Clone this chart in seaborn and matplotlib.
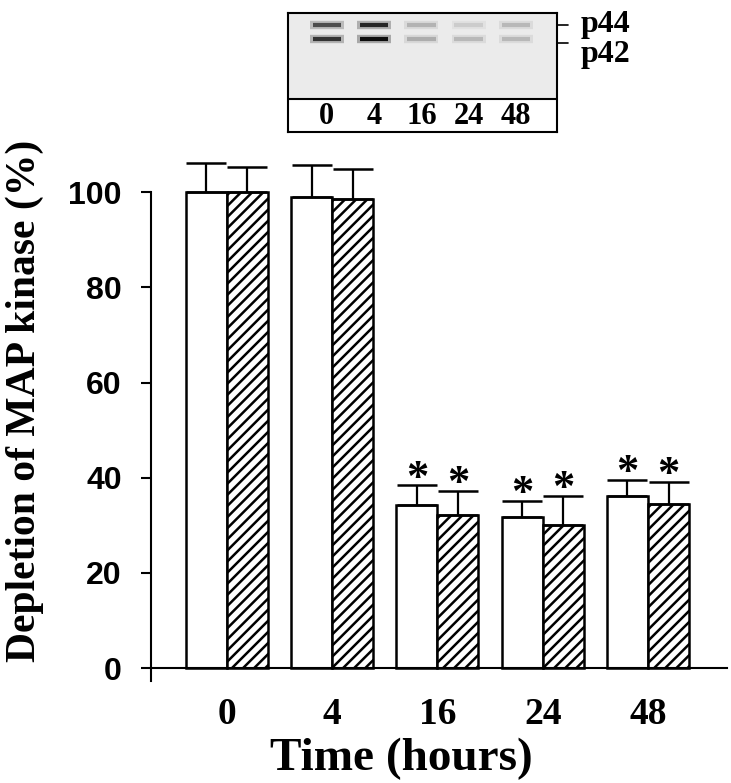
import pandas as pd
import matplotlib
matplotlib.use("Agg")
import matplotlib.pyplot as plt
import seaborn as sns

# data
times = ['0', '4', '16', '24', '48']
p44_mean = [100.0, 99.0, 34.2, 31.7, 36.1]
p44_sem = [6.1, 6.7, 4.2, 3.4, 3.4]
p42_mean = [100.0, 98.5, 32.1, 30.0, 34.5]
p42_sem = [5.3, 6.3, 5.1, 6.1, 4.6]
signif = [False, False, True, True, True]

# blot band darkness (0 = none, 1 = black) per lane
p44_band = [0.70, 0.85, 0.30, 0.20, 0.28]
p42_band = [0.80, 0.95, 0.32, 0.28, 0.28]

df = pd.DataFrame({
    'time': times * 2,
    'band': ['p44'] * len(times) + ['p42'] * len(times),
    'value': p44_mean + p42_mean,
})

sns.set_style("white")
plt.rcParams['hatch.linewidth'] = 1.8
for k in ['text.color', 'axes.labelcolor', 'xtick.color', 'ytick.color']:
    plt.rcParams[k] = 'black'
serif = ['Liberation Serif', 'DejaVu Serif']
sans = ['Liberation Sans', 'DejaVu Sans']

fig = plt.figure(figsize=(7.31, 7.83), dpi=100)
ax = fig.add_axes([151 / 731, 102 / 783, 576 / 731, 527 / 783])

sns.barplot(data=df, x='time', y='value', hue='band', order=times,
            hue_order=['p44', 'p42'], palette=['white', 'white'],
            saturation=1, edgecolor='black', linewidth=1.8, width=0.78,
            errorbar=None, legend=False, ax=ax)

for bar in ax.containers[1]:
    bar.set_hatch('///')

for cont, sem in zip(ax.containers, [p44_sem, p42_sem]):
    for bar, err, star in zip(cont, sem, signif):
        x = bar.get_x() + bar.get_width() / 2
        h = bar.get_height()
        ax.errorbar(x, h, yerr=[[0], [err]], fmt='none', ecolor='black',
                    elinewidth=1.6, capsize=14.4, capthick=1.8, zorder=1)
        if star:
            ax.annotate('*', (x, h + err), xytext=(0, -3), textcoords='offset points',
                        ha='center', va='baseline', fontsize=32,
                        fontweight='bold', family=serif)

ax.set_xlim(-0.72, 4.75)
ax.set_ylim(-2.7, 108)
ax.set_yticks([0, 20, 40, 60, 80, 100])
ax.set_xlabel('')
ax.set_ylabel('')
for s in ['top', 'right']:
    ax.spines[s].set_visible(False)
ax.spines['bottom'].set_position(('data', 0))
ax.spines['left'].set_bounds(-2.7, 100)
for s in ['left', 'bottom']:
    ax.spines[s].set_linewidth(1.5)
    ax.spines[s].set_color('black')

ax.tick_params(axis='y', direction='out', length=7, width=1.5, color='black',
               pad=14, left=True)
ax.tick_params(axis='x', length=0, pad=21)
for lab in ax.get_yticklabels():
    lab.set_fontsize(23)
    lab.set_fontweight('bold')
    lab.set_family(sans)
for lab in ax.get_xticklabels():
    lab.set_fontsize(27)
    lab.set_fontweight('bold')
    lab.set_family(serif)

fig.text(0.034, 0.488, 'Depletion of MAP kinase (%)', rotation=90,
         ha='center', va='center', fontsize=30, fontweight='bold', family=serif)
fig.text(0.549, 0.0166, 'Time (hours)', ha='center', va='baseline',
         fontsize=34, fontweight='bold', family=serif)

# western blot inset
bx = fig.add_axes([288 / 731, 1 - 132 / 783, 269 / 731, 119 / 783])
bx.set_xlim(-0.82, 4.87)
bx.set_ylim(119, 0)
bx.axhspan(0, 86, color='#ebebeb', lw=0)
bx.axhline(86, color='black', lw=1.5)
for i, (a, b) in enumerate(zip(p44_band, p42_band)):
    for y, d in [(12, a), (26, b)]:
        g = 1 - d
        bx.hlines(y, i - 0.36, i + 0.36, color=(g, g, g), lw=6, alpha=0.3)
        bx.hlines(y, i - 0.3, i + 0.3, color=(g, g, g), lw=3)
    bx.text(i, 103, times[i], ha='center', va='center', fontsize=22,
            fontweight='bold', family=serif)
bx.set_xticks([])
bx.set_yticks([])
for s in bx.spines.values():
    s.set_linewidth(1.5)
    s.set_color('black')

for y, name, base in [(12, 'p44', 19), (30, 'p42', 49)]:
    bx.plot([4.87, 5.10], [y, y], color='black', lw=1.2, clip_on=False)
    bx.text(5.38, base, name, ha='left', va='baseline', fontsize=23,
            fontweight='bold', family=serif, clip_on=False)

fig.savefig('out.png', dpi=100)
